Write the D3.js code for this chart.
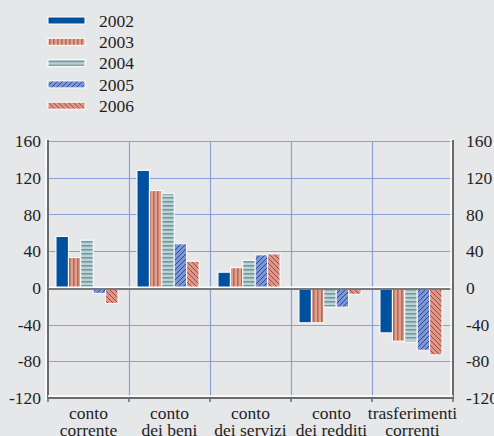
<!DOCTYPE html>
<html><head><meta charset="utf-8">
<script src="https://cdn.jsdelivr.net/npm/d3@7"></script>
<style>
html,body{margin:0;padding:0;background:#e6e7e9;}
svg{display:block;}
</style></head>
<body>
<svg id="chart" width="494" height="436"></svg>
<script>
const categories = [["conto","corrente"],["conto","dei beni"],["conto","dei servizi"],["conto","dei redditi"],["trasferimenti","correnti"]];
const years = ["2002","2003","2004","2005","2006"];
const v2002 = [56, 128, 17, -38, -49];
const v2003 = [33, 106, 22, -38, -58];
const v2004 = [52, 103, 30, -21, -59];
const v2005 = [-6, 48, 36, -21, -68];
const v2006 = [-17, 29, 37, -7, -73];
const yTicks = [-120, -80, -40, 0, 40, 80, 120, 160];
const series = [v2002, v2003, v2004, v2005, v2006];

const FONT = "'Liberation Serif', 'Times New Roman', 'DejaVu Serif', serif";
const svg = d3.select("#chart").attr("font-family", FONT);
const defs = svg.append("defs");
const fills = ["#0050a0","url(#p2003)","url(#p2004)","url(#p2005)","url(#p2006)"];

let p = defs.append("pattern").attr("id","p2003").attr("patternUnits","userSpaceOnUse").attr("width",4).attr("height",4);
p.append("rect").attr("width",4).attr("height",4).attr("fill","#dca392");
p.append("rect").attr("x",1).attr("width",1.6).attr("height",4).attr("fill","#c0654f");
p = defs.append("pattern").attr("id","p2004").attr("patternUnits","userSpaceOnUse").attr("width",4).attr("height",4);
p.append("rect").attr("width",4).attr("height",4).attr("fill","#bcd2d3");
p.append("rect").attr("y",1).attr("width",4).attr("height",1.6).attr("fill","#6e9aa2");
p = defs.append("pattern").attr("id","p2005").attr("patternUnits","userSpaceOnUse").attr("width",5).attr("height",5);
p.append("rect").attr("width",5).attr("height",5).attr("fill","#8196cf");
p.append("path").attr("d","M-1,6 L6,-1 M-2,2 L2,-2 M3,7 L7,3").attr("stroke","#1c4db0").attr("stroke-width",1);
p = defs.append("pattern").attr("id","p2006").attr("patternUnits","userSpaceOnUse").attr("width",5).attr("height",5);
p.append("rect").attr("width",5).attr("height",5).attr("fill","#d9998a");
p.append("path").attr("d","M-1,-1 L6,6 M-2,3 L2,7 M3,-2 L7,2").attr("stroke","#b0413a").attr("stroke-width",1);

const L = 48, R = 453, T = 141, B = 398;
const x0 = d3.scaleBand().domain(d3.range(categories.length)).range([L, R]).paddingInner(0).paddingOuter(0);
const x1 = d3.scaleBand().domain(d3.range(years.length)).range([8, x0.bandwidth()-11]).padding(0);
const y = d3.scaleLinear().domain([-120, 160]).range([B, T]);

const grid = "#8d9fd9";
svg.append("g").selectAll("line").data(yTicks.filter(d => d !== 0 && d !== -120)).join("line")
  .attr("x1", L).attr("x2", R).attr("y1", d => Math.round(y(d))+0.5).attr("y2", d => Math.round(y(d))+0.5)
  .attr("stroke", grid).attr("stroke-width", 1.2);
svg.append("g").selectAll("line").data(d3.range(1, categories.length)).join("line")
  .attr("x1", i => Math.round(x0(i))+0.5).attr("x2", i => Math.round(x0(i))+0.5).attr("y1", T).attr("y2", B)
  .attr("stroke", grid).attr("stroke-width", 1.2);

const gBars = svg.append("g");
series.forEach((vals, s) => {
  gBars.append("g").selectAll("rect").data(vals).join("rect")
    .attr("x", (d,i) => x0(i) + x1(s))
    .attr("width", x1.bandwidth())
    .attr("y", d => y(Math.max(0,d)))
    .attr("height", d => Math.abs(y(d) - y(0)))
    .attr("fill", fills[s])
    .attr("stroke", "#ffffff").attr("stroke-width", 1);
});

svg.append("line").attr("x1", L).attr("x2", R).attr("y1", y(0)-0.5).attr("y2", y(0)-0.5).attr("stroke","#ffffff").attr("stroke-width",1.5);
svg.append("line").attr("x1", L).attr("x2", R).attr("y1", y(0)+1.2).attr("y2", y(0)+1.2).attr("stroke","#7a7a7a").attr("stroke-width",2);

const axisCol = "#6b6b6b";
svg.append("line").attr("x1",L-2).attr("x2",L-2).attr("y1",T-2).attr("y2",B+2).attr("stroke","#fff").attr("stroke-width",1.5);
svg.append("line").attr("x1",L).attr("x2",L).attr("y1",T-1).attr("y2",B+1).attr("stroke",axisCol).attr("stroke-width",2);
svg.append("line").attr("x1",R-2).attr("x2",R-2).attr("y1",T-2).attr("y2",B).attr("stroke","#fff").attr("stroke-width",1.5);
svg.append("line").attr("x1",R).attr("x2",R).attr("y1",T-1).attr("y2",B+1).attr("stroke",axisCol).attr("stroke-width",2);
svg.append("line").attr("x1",L).attr("x2",R).attr("y1",B-2).attr("y2",B-2).attr("stroke","#fff").attr("stroke-width",1.5);
svg.append("line").attr("x1",L).attr("x2",R).attr("y1",B).attr("y2",B).attr("stroke",axisCol).attr("stroke-width",2);
svg.append("g").selectAll("line").data(d3.range(0, categories.length+1)).join("line")
  .attr("x1", i => i < categories.length ? x0(i) : R).attr("x2", i => i < categories.length ? x0(i) : R)
  .attr("y1", B).attr("y2", B+4).attr("stroke", axisCol).attr("stroke-width", 1.5);

const fs = 17.5;
svg.append("g").selectAll("text").data(yTicks).join("text")
  .attr("x", 41).attr("y", d => y(d)).attr("dy","0.35em").attr("text-anchor","end")
  .attr("font-size", fs).attr("fill","#1e1e1e").text(d => d);
svg.append("g").selectAll("text").data(yTicks).join("text")
  .attr("x", 466).attr("y", d => y(d)).attr("dy","0.35em").attr("text-anchor","start")
  .attr("font-size", fs).attr("fill","#1e1e1e").text(d => d);

const cl = svg.append("g").selectAll("text").data(categories).join("text")
  .attr("x", (d,i) => x0(i) + x0.bandwidth()/2).attr("y", 419)
  .attr("text-anchor","middle").attr("font-size", fs).attr("fill","#1e1e1e");
cl.append("tspan").attr("x", (d,i) => x0(i) + x0.bandwidth()/2).text(d => d[0]);
cl.append("tspan").attr("x", (d,i) => x0(i) + x0.bandwidth()/2).attr("dy", 17).text(d => d[1]);

const lg = svg.append("g").selectAll("g").data(years).join("g")
  .attr("transform", (d,i) => `translate(48,${17 + i*21.3})`);
lg.append("rect").attr("width", 37).attr("height", 7).attr("fill", (d,i) => fills[i]).attr("stroke","#fff").attr("stroke-width",1);
lg.append("text").attr("x", 51).attr("y", 3.5).attr("dy","0.35em").attr("font-size", fs).attr("fill","#1e1e1e").text(d => d);
</script>
</body></html>
